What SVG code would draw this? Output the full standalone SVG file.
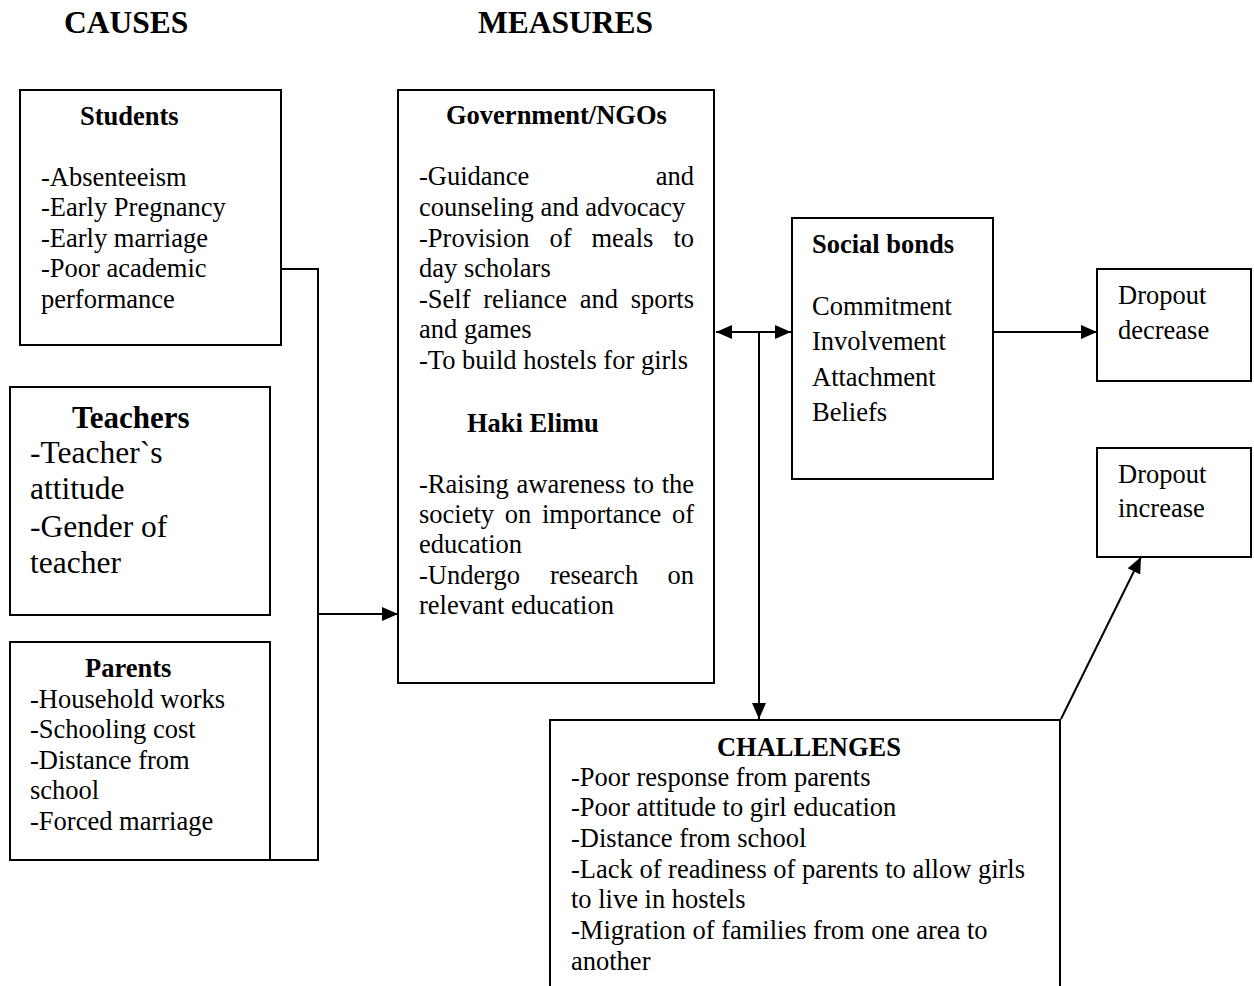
<svg xmlns="http://www.w3.org/2000/svg" width="1254" height="986" viewBox="0 0 1254 986">
<style>
text{font-family:"Liberation Serif","Times New Roman",serif;font-size:26.5px;fill:#000}
.b{font-weight:bold}
.h{font-weight:bold;font-size:31.5px}
.big{font-size:31.5px}
.bigb{font-size:31px;font-weight:bold}
.box{fill:#fff;stroke:#000;stroke-width:2}
.ln{fill:none;stroke:#000;stroke-width:2}
</style>
<defs>
<marker id="ah" markerUnits="userSpaceOnUse" markerWidth="16" markerHeight="14" refX="16" refY="7" orient="auto-start-reverse">
<path d="M0,0 L16,7 L0,14 z" fill="#000"/>
</marker>
</defs>
<rect width="1254" height="986" fill="#fff"/>
<g id="headers">
<text class="h" x="64" y="33">CAUSES</text>
<text class="h" x="478" y="33">MEASURES</text>
</g>
<g id="students">
<rect class="box" x="20" y="90" width="261" height="255"/>
<text class="b" x="80" y="125">Students</text>
<text x="41" y="186">-Absenteeism</text>
<text x="41" y="216">-Early Pregnancy</text>
<text x="41" y="247">-Early marriage</text>
<text x="41" y="277">-Poor academic</text>
<text x="41" y="308">performance</text>
</g>
<g id="teachers">
<rect class="box" x="10" y="387" width="260" height="228"/>
<text class="bigb" x="72" y="428">Teachers</text>
<text class="big" x="30" y="463">-Teacher`s</text>
<text class="big" x="30" y="499">attitude</text>
<text class="big" x="30" y="537">-Gender of</text>
<text class="big" x="30" y="573">teacher</text>
</g>
<g id="parents">
<rect class="box" x="10" y="642" width="260" height="218"/>
<text class="b" x="85" y="677">Parents</text>
<text x="30" y="708">-Household works</text>
<text x="30" y="738">-Schooling cost</text>
<text x="30" y="769">-Distance from</text>
<text x="30" y="799">school</text>
<text x="30" y="830">-Forced marriage</text>
</g>
<g id="government">
<rect class="box" x="398" y="90" width="316" height="593"/>
<text class="b" x="446" y="124">Government/NGOs</text>
<text y="185"><tspan x="419">-Guidance</tspan><tspan x="694" text-anchor="end">and</tspan></text>
<text x="419" y="216">counseling and advocacy</text>
<text y="247"><tspan x="419">-Provision</tspan><tspan x="549.4">of</tspan><tspan x="591.5">meals</tspan><tspan x="694" text-anchor="end">to</tspan></text>
<text x="419" y="277">day scholars</text>
<text y="308"><tspan x="419">-Self</tspan><tspan x="483.2">reliance</tspan><tspan x="579.7">and</tspan><tspan x="694" text-anchor="end">sports</tspan></text>
<text x="419" y="338">and games</text>
<text x="419" y="369">-To build hostels for girls</text>
<text class="b" x="467" y="432">Haki Elimu</text>
<text y="493"><tspan x="419">-Raising</tspan><tspan x="516.6">awareness</tspan><tspan x="633.3">to</tspan><tspan x="694" text-anchor="end">the</tspan></text>
<text y="523"><tspan x="419">society</tspan><tspan x="504.8">on</tspan><tspan x="542">importance</tspan><tspan x="694" text-anchor="end">of</tspan></text>
<text x="419" y="553">education</text>
<text y="584"><tspan x="419">-Undergo</tspan><tspan x="549.9">research</tspan><tspan x="694" text-anchor="end">on</tspan></text>
<text x="419" y="614">relevant education</text>
</g>
<g id="social-bonds">
<rect class="box" x="792" y="218" width="201" height="261"/>
<text class="b" x="812" y="253">Social bonds</text>
<text x="812" y="315">Commitment</text>
<text x="812" y="350">Involvement</text>
<text x="812" y="386">Attachment</text>
<text x="812" y="421">Beliefs</text>
</g>
<g id="dropout-decrease">
<rect class="box" x="1097" y="269" width="154" height="112"/>
<text x="1118" y="304">Dropout</text>
<text x="1118" y="339">decrease</text>
</g>
<g id="dropout-increase">
<rect class="box" x="1097" y="448" width="154" height="109"/>
<text x="1118" y="483">Dropout</text>
<text x="1118" y="517">increase</text>
</g>
<g id="challenges">
<rect class="box" x="550" y="720" width="510" height="290"/>
<text class="b" x="809" y="756" text-anchor="middle">CHALLENGES</text>
<text x="571" y="786">-Poor response from parents</text>
<text x="571" y="816">-Poor attitude to girl education</text>
<text x="571" y="847">-Distance from school</text>
<text x="571" y="878">-Lack of readiness of parents to allow girls</text>
<text x="571" y="908">to live in hostels</text>
<text x="571" y="939">-Migration of families from one area to</text>
<text x="571" y="970">another</text>
</g>
<g id="connectors">
<polyline class="ln" points="281,269 318,269 318,860 270,860"/>
<line class="ln" x1="318" y1="614" x2="398" y2="614" marker-end="url(#ah)"/>
<line class="ln" x1="716" y1="332" x2="791" y2="332" marker-start="url(#ah)" marker-end="url(#ah)"/>
<line class="ln" x1="759" y1="332" x2="759" y2="719" marker-end="url(#ah)"/>
<line class="ln" x1="993" y1="332" x2="1097" y2="332" marker-end="url(#ah)"/>
<line class="ln" x1="1061" y1="719" x2="1141" y2="557" marker-end="url(#ah)"/>
</g>
</svg>
